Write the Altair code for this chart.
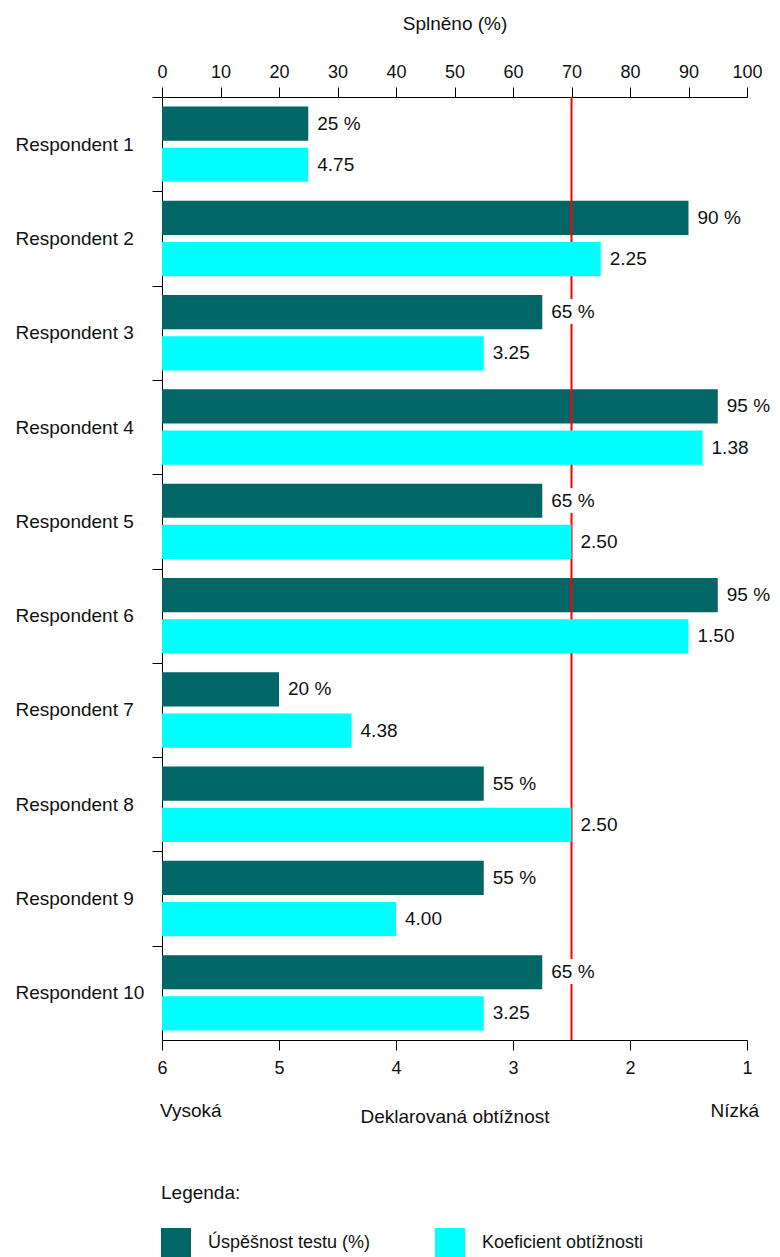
import altair as alt
import pandas as pd

# ---------------- data ----------------
respondents = [f"Respondent {i}" for i in range(1, 11)]
success_pct = [25, 90, 65, 95, 65, 95, 20, 55, 55, 65]
difficulty = [4.75, 2.25, 3.25, 1.38, 2.50, 1.50, 4.38, 2.50, 4.00, 3.25]
series_names = ["Úspěšnost testu (%)", "Koeficient obtížnosti"]
series_colors = ["#006666", "#00FFFF"]
threshold_pct = [70]
pct_ticks = [0, 10, 20, 30, 40, 50, 60, 70, 80, 90, 100]
coef_ticks = [6, 5, 4, 3, 2, 1]
scale_left = ["Vysoká"]
scale_right = ["Nízká"]

FONT = "Liberation Sans"
W, H = 585, 943
STEP = H / 10.0
TXT = "#111111"

dark_df = pd.DataFrame({
    "respondent": respondents,
    "series": series_names[0],
    "value": success_pct,
    "label": [f"{v} %" for v in success_pct],
})
cyan_df = pd.DataFrame({
    "respondent": respondents,
    "series": series_names[1],
    "value": difficulty,
    "label": [f"{v:.2f}" for v in difficulty],
})
rule_df = pd.DataFrame({"value": threshold_pct})
left_df = pd.DataFrame({"value": [6], "text": scale_left})
right_df = pd.DataFrame({"value": [1], "text": scale_right})

# ---------------- shared encodings ----------------
y_axis = alt.Axis(title="", labelAlign="left", labelPadding=137, tickSize=10,
                  tickOffset=-STEP / 2, labelOffset=STEP / 2, labelFontSize=19,
                  labelFont=FONT, labelColor=TXT, domainColor="black",
                  tickColor="black", labelLimit=300)
y_enc = alt.Y("respondent:N", sort=respondents,
              scale=alt.Scale(domain=respondents, paddingInner=0.2, paddingOuter=0.1),
              axis=y_axis)
yoff = alt.YOffset("series:N",
                   scale=alt.Scale(domain=series_names, paddingInner=0.17, paddingOuter=0))
color_enc = alt.Color("series:N",
                      scale=alt.Scale(domain=series_names, range=series_colors),
                      legend=alt.Legend(title="Legenda:", orient="none", legendX=-1,
                                        legendY=1087, direction="horizontal",
                                        symbolType="square", symbolSize=900,
                                        symbolStrokeWidth=0, labelFontSize=18,
                                        labelFont=FONT, labelColor=TXT,
                                        titleFont=FONT, titleFontSize=19,
                                        titleFontWeight="normal", titleColor=TXT,
                                        labelOffset=17, columnPadding=64,
                                        titlePadding=25, padding=0, labelLimit=400))

pct_scale = alt.Scale(domain=[0, 100], nice=False, zero=True)
pct_axis = alt.Axis(orient="top", values=pct_ticks, title="Splněno (%)",
                    titleFont=FONT, titleFontSize=19, titleFontWeight="normal",
                    titleColor=TXT, titlePadding=30, labelFont=FONT, labelFontSize=18,
                    labelColor=TXT, labelPadding=6, tickSize=10, tickColor="black",
                    domainColor="black", grid=False, format="d", labelFlush=False)

coef_scale = alt.Scale(domain=[1, 6], reverse=True, nice=False, zero=False)
coef_axis = alt.Axis(orient="bottom", values=coef_ticks, title="Deklarovaná obtížnost",
                     titleFont=FONT, titleFontSize=19, titleFontWeight="normal",
                     titleColor=TXT, titlePadding=30, labelFont=FONT, labelFontSize=18,
                     labelColor=TXT, labelPadding=9, tickSize=10, tickColor="black",
                     domainColor="black", grid=False, format="d", labelFlush=False)

# ---------------- percent group (top axis) ----------------
dark_bars = alt.Chart(dark_df).mark_bar().encode(
    y=y_enc, yOffset=yoff,
    x=alt.X("value:Q", scale=pct_scale, axis=pct_axis),
    color=color_enc,
)
dark_halo = alt.Chart(dark_df).mark_text(
    align="left", baseline="middle", dx=9, fontSize=19, font=FONT,
    color="white", stroke="white", strokeWidth=12
).encode(
    y=y_enc, yOffset=yoff,
    x=alt.X("value:Q", scale=pct_scale, axis=pct_axis),
    text="label:N",
)
dark_text = alt.Chart(dark_df).mark_text(
    align="left", baseline="middle", dx=9, fontSize=19, font=FONT, color=TXT
).encode(
    y=y_enc, yOffset=yoff,
    x=alt.X("value:Q", scale=pct_scale, axis=pct_axis),
    text="label:N",
)
red_rule = alt.Chart(rule_df).mark_rule(color="#FF0000", strokeWidth=2).encode(
    x=alt.X("value:Q", scale=pct_scale, axis=pct_axis),
)
pct_group = alt.layer(dark_bars, red_rule, dark_halo, dark_text)

# ---------------- coefficient group (bottom axis) ----------------
cyan_bars = alt.Chart(cyan_df).mark_bar().encode(
    y=y_enc, yOffset=yoff,
    x=alt.X("value:Q", scale=coef_scale, axis=coef_axis),
    x2=alt.datum(6),
    color=color_enc,
)
cyan_text = alt.Chart(cyan_df).mark_text(
    align="left", baseline="middle", dx=9, fontSize=19, font=FONT, color=TXT
).encode(
    y=y_enc, yOffset=yoff,
    x=alt.X("value:Q", scale=coef_scale, axis=coef_axis),
    text="label:N",
)
left_text = alt.Chart(left_df).mark_text(
    align="left", baseline="alphabetic", dx=-2, fontSize=19, font=FONT, color=TXT
).encode(
    x=alt.X("value:Q", scale=coef_scale, axis=coef_axis),
    y=alt.value(1020),
    text="text:N",
)
right_text = alt.Chart(right_df).mark_text(
    align="right", baseline="alphabetic", dx=12, fontSize=19, font=FONT, color=TXT
).encode(
    x=alt.X("value:Q", scale=coef_scale, axis=coef_axis),
    y=alt.value(1020),
    text="text:N",
)
coef_group = alt.layer(cyan_bars, cyan_text, left_text, right_text)

chart = alt.layer(pct_group, coef_group).resolve_scale(
    x="independent"
).properties(
    width=W, height=H,
    autosize=alt.AutoSizeParams(type="none"),
    padding={"left": 162, "top": 97, "right": 33, "bottom": 217},
    background="white",
).configure_view(strokeWidth=0)

chart.save("out.html", embed_options={"renderer": "svg", "actions": False})
